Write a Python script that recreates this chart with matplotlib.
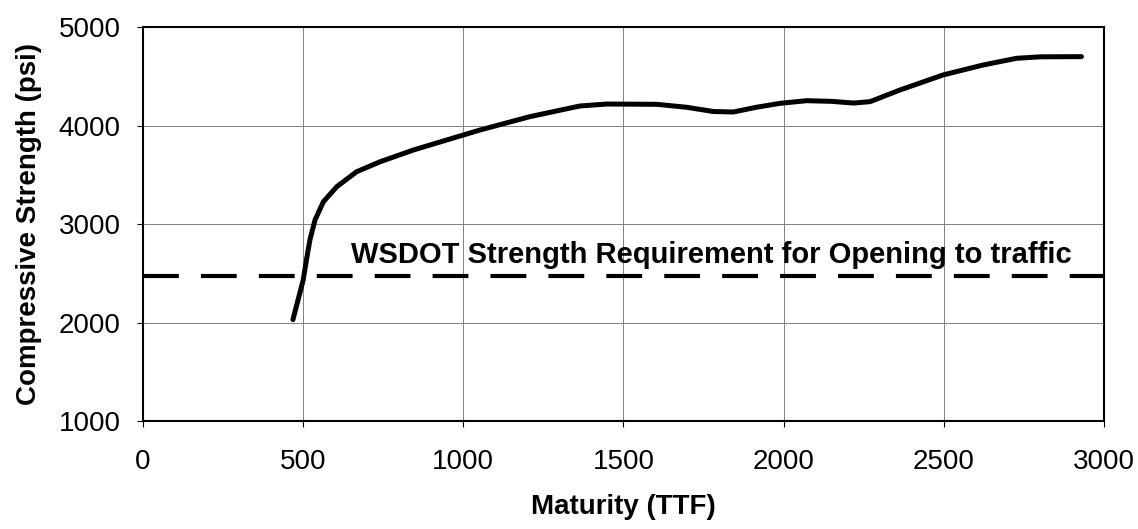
import numpy as np
import matplotlib.pyplot as plt

plt.rcParams['font.family'] = ['Liberation Sans', 'DejaVu Sans']

maturity = [468, 484, 500, 511, 521, 537, 563, 605, 667, 740, 844, 948, 1052, 1208,
            1364, 1448, 1604, 1697, 1781, 1843, 1915, 1989, 2072, 2150, 2218, 2270,
            2363, 2498, 2623, 2727, 2800, 2930]
strength = [2030, 2230, 2431, 2650, 2838, 3041, 3226, 3379, 3531, 3632, 3751, 3853, 3954, 4090,
            4198, 4218, 4215, 4185, 4142, 4137, 4185, 4225, 4252, 4245, 4228, 4242,
            4360, 4513, 4614, 4682, 4697, 4699]

requirement = 2470
req_label = "WSDOT Strength Requirement for Opening to traffic"

fig = plt.figure(figsize=(11.38, 5.29), dpi=100)
ax = fig.add_axes([0.1257, 0.204, 0.8443, 0.745])

ax.plot(maturity, strength, color='black', lw=3.6, solid_capstyle='round',
        solid_joinstyle='round', zorder=3)
ax.plot([0, 3000], [requirement, requirement], color='black', lw=3.0,
        dashes=(8.6, 5.3), zorder=2)
ax.text(648, 2600, req_label, fontsize=21, fontweight='bold',
        ha='left', va='baseline')

ax.set_xlim(0, 3000)
ax.set_ylim(1000, 5000)
ax.set_xticks(np.arange(0, 3001, 500))
ax.set_yticks(np.arange(1000, 5001, 1000))
ax.grid(True, color='#808080', lw=0.7)
ax.set_axisbelow(True)
for s in ax.spines.values():
    s.set_linewidth(1.5)
ax.tick_params(labelsize=20, length=4, width=0.8)
ax.tick_params(axis='x', pad=16)
ax.tick_params(axis='y', pad=12)

ax.set_xlabel("Maturity (TTF)", fontsize=20, fontweight='bold', labelpad=14)
ax.set_ylabel("Compressive Strength (psi)", fontsize=20, fontweight='bold', labelpad=12)

fig.savefig("out.png", dpi=100)
